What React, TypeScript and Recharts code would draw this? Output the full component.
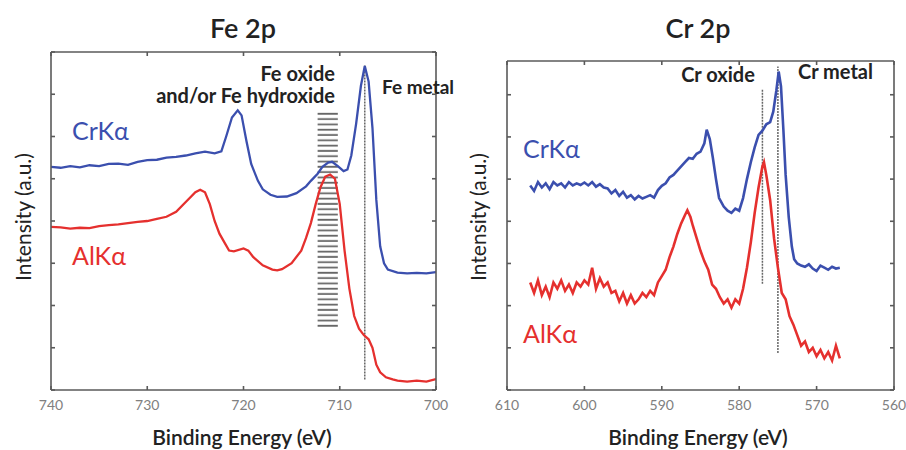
import React from 'react';
import { LineChart, Line, XAxis, YAxis, ReferenceLine, ReferenceArea } from 'recharts';

// Fe 2p panel
const feCrEnergy = [740, 739, 738, 737, 736, 735, 734, 733, 732, 731, 730, 729, 728, 727, 726, 725, 724, 723, 722.3, 721.8, 721.2, 720.6, 720.2, 719.7, 719.2, 718.5, 718, 717.2, 716.5, 715.5, 714.5, 713.5, 713, 712.3, 711.8, 711.2, 710.8, 710.2, 709.6, 709.2, 708.8, 708.3, 707.8, 707.4, 707, 706.6, 706.2, 705.8, 705.4, 705, 704, 703, 702, 701, 700];
const feCrKa = [5.28, 5.26, 5.3, 5.27, 5.32, 5.3, 5.35, 5.36, 5.33, 5.4, 5.44, 5.45, 5.5, 5.52, 5.55, 5.6, 5.64, 5.6, 5.65, 6.0, 6.45, 6.62, 6.5, 5.9, 5.35, 4.95, 4.75, 4.62, 4.57, 4.58, 4.66, 4.82, 4.95, 5.12, 5.28, 5.38, 5.4, 5.3, 5.18, 5.22, 5.55, 6.3, 7.2, 7.67, 7.3, 6.2, 4.5, 3.4, 3.0, 2.85, 2.78, 2.76, 2.77, 2.76, 2.79];
const feAlEnergy = [740, 739, 738, 737, 736, 735, 734, 733, 732, 731, 730, 729, 728, 727, 726, 725, 724.5, 724, 723.5, 723, 722.5, 722, 721.5, 721, 720, 719.5, 719, 718, 717, 716.5, 716, 715, 714, 713.5, 713, 712.5, 712, 711.5, 711, 710.5, 710, 709.5, 709, 708.5, 708, 707.5, 707, 706.6, 706.2, 705.8, 705.2, 704.5, 704, 703, 702, 701, 700];
const feAlKa = [3.86, 3.85, 3.82, 3.84, 3.83, 3.88, 3.9, 3.92, 3.95, 3.98, 4.0, 4.05, 4.1, 4.22, 4.45, 4.68, 4.74, 4.68, 4.4, 4.0, 3.7, 3.5, 3.3, 3.28, 3.35, 3.3, 3.15, 2.95, 2.85, 2.83, 2.86, 3.0, 3.3, 3.6, 3.95, 4.4, 4.8, 5.05, 5.1, 5.0, 4.4, 3.3, 2.4, 1.75, 1.45, 1.3, 1.2, 1.0, 0.6, 0.42, 0.3, 0.25, 0.22, 0.2, 0.22, 0.2, 0.26];
const feTicks = [740, 730, 720, 710, 700];

// Cr 2p panel
const crCrEnergy = [607, 606.5, 606, 605.5, 605, 604.5, 604, 603.5, 603, 602.5, 602, 601.5, 601, 600.5, 600, 599.5, 599, 598.5, 598, 597.5, 597, 596.5, 596, 595.5, 595, 594.5, 594, 593.5, 593, 592.5, 592, 591.5, 591, 590.5, 590, 589.5, 589, 588.5, 588, 587.5, 587, 586.5, 586, 585.5, 585, 584.5, 584.2, 583.8, 583.4, 583, 582.6, 582, 581.5, 581, 580.5, 580, 579.5, 579, 578.5, 578, 577.5, 577, 576.5, 576, 575.6, 575.2, 574.9, 574.6, 574.3, 574, 573.6, 573.2, 572.9, 572.5, 572, 571.5, 571, 570.5, 570, 569.5, 569, 568.5, 568, 567.5, 567];
const crCrKa = [4.85, 4.72, 4.93, 4.8, 4.9, 4.76, 4.93, 4.85, 4.9, 4.8, 4.93, 4.85, 4.9, 4.86, 4.92, 4.85, 4.93, 4.82, 4.88, 4.8, 4.78, 4.66, 4.74, 4.6, 4.7, 4.56, 4.62, 4.52, 4.6, 4.54, 4.58, 4.62, 4.56, 4.74, 4.84, 4.9, 5.04, 5.1, 5.2, 5.3, 5.4, 5.5, 5.48, 5.6, 5.65, 5.85, 6.17, 5.95, 5.5, 5.0, 4.55, 4.35, 4.25, 4.2, 4.3, 4.25, 4.55, 5.0, 5.4, 5.75, 6.05, 6.15, 6.3, 6.35, 6.6, 7.1, 7.55, 7.2, 6.2, 5.1, 4.1, 3.4, 3.1, 3.0, 2.95, 2.92, 2.98, 2.88, 2.82, 2.95, 2.9, 2.85, 2.92, 2.88, 2.9];
const crAlEnergy = [607, 606.5, 606, 605.5, 605, 604.5, 604, 603.5, 603, 602.5, 602, 601.5, 601, 600.5, 600, 599.5, 599, 598.5, 598, 597.5, 597, 596.5, 596, 595.5, 595, 594.5, 594, 593.5, 593, 592.5, 592, 591.5, 591, 590.5, 590, 589.5, 589, 588.5, 588, 587.5, 587, 586.7, 586.3, 586, 585.5, 585, 584.5, 584, 583.5, 583, 582.5, 582, 581.5, 581, 580.5, 580, 579.5, 579, 578.5, 578, 577.5, 577, 576.8, 576.5, 576, 575.5, 575, 574.5, 574, 573.5, 573, 572.5, 572, 571.5, 571, 570.5, 570, 569.5, 569, 568.5, 568, 567.5, 567];
const crAlKa = [2.55, 2.3, 2.6, 2.25, 2.45, 2.2, 2.55, 2.4, 2.6, 2.35, 2.5, 2.3, 2.55, 2.45, 2.6, 2.5, 2.9, 2.4, 2.65, 2.45, 2.55, 2.3, 2.35, 2.1, 2.3, 2.05, 2.25, 2.05, 2.15, 2.3, 2.2, 2.35, 2.25, 2.55, 2.7, 2.85, 3.15, 3.4, 3.7, 3.95, 4.15, 4.26, 4.1, 3.9, 3.6, 3.3, 3.05, 2.85, 2.5, 2.4, 2.2, 2.05, 2.15, 1.95, 2.15, 2.05, 2.4, 2.9, 3.5, 4.2, 4.8, 5.3, 5.4, 5.1, 4.5, 3.6, 2.9, 2.3, 2.15, 1.75, 1.55, 1.3, 1.05, 1.15, 0.9, 1.0, 0.8, 0.95, 0.75, 0.9, 0.7, 1.05, 0.75];
const crTicks = [610, 600, 590, 580, 570, 560];

const yTicks = [0, 1, 2, 3, 4, 5, 6, 7, 8];

const zip = (xs: number[], ys: number[]) => xs.map((e, i) => ({ e, v: ys[i] }));

const BLUE = '#3b4fae';
const RED = '#e5302e';
const AXIS = '#5a5a5a';
const FONT = 'Lato, "Open Sans", sans-serif';

const Txt = ({ x, y, children, size, color = '#222', weight = 400, align = 'center', rotate = false }: any) => {
  const tx = align === 'center' ? '-50%' : align === 'right' ? '-100%' : '0';
  return (
    <div
      style={{
        position: 'absolute',
        left: x,
        top: y,
        transform: `translate(${tx}, -50%)${rotate ? ' rotate(-90deg)' : ''}`,
        fontFamily: FONT,
        fontSize: size,
        fontWeight: weight,
        color,
        whiteSpace: 'nowrap',
        lineHeight: 1,
      }}
    >
      {children}
    </div>
  );
};

const noLabel = () => <g />;

// frame: labelled bottom axis plus four mirrored axes that draw the box and inward ticks
const frame = (domain: number[], ticks: number[], yMax: number) => {
  const yt = yTicks.filter((t) => t <= yMax);
  return [
    <XAxis key="xb" type="number" dataKey="e" domain={domain} ticks={ticks} reversed allowDataOverflow height={40}
      axisLine={false} tickLine={false} tickMargin={4} tick={{ fill: '#808080', fontSize: 14, fontFamily: FONT }} />,
    <XAxis key="xbt" xAxisId="bt" type="number" dataKey="e" domain={domain} ticks={ticks} reversed allowDataOverflow height={1}
      mirror tick={noLabel} tickSize={4} stroke={AXIS} strokeWidth={1.6} />,
    <XAxis key="xt" xAxisId="top" orientation="top" type="number" dataKey="e" domain={domain} ticks={ticks} reversed allowDataOverflow
      height={1} mirror tick={noLabel} tickSize={4} stroke={AXIS} strokeWidth={1.6} />,
    <YAxis key="yl" type="number" domain={[0, yMax]} ticks={yt} width={1} mirror tick={noLabel} tickSize={4}
      stroke={AXIS} strokeWidth={1.6} allowDataOverflow />,
    <YAxis key="yr" yAxisId="r" orientation="right" type="number" domain={[0, yMax]} ticks={yt} width={1} mirror tick={noLabel}
      tickSize={4} stroke={AXIS} strokeWidth={1.6} allowDataOverflow />,
  ];
};

export default function App() {
  return (
    <div style={{ position: 'absolute', left: 0, top: 0, width: 906, height: 450, background: '#fff', overflow: 'hidden' }}>
      <div style={{ position: 'absolute', left: 0, top: 0 }}>
        <LineChart width={460} height={450} margin={{ top: 52, right: 24, bottom: 20, left: 51 }}>
          <defs>
            <pattern id="hatchFe" width="8" height="5.3" patternUnits="userSpaceOnUse">
              <line x1="0" y1="2.5" x2="8" y2="2.5" stroke="#666" strokeWidth="1.8" />
            </pattern>
          </defs>
          {frame([700, 740], feTicks, 8)}
          <ReferenceArea x1={712.3} x2={710.2} y1={1.45} y2={6.6} fill="url(#hatchFe)" fillOpacity={1} stroke="none" />
          <ReferenceLine segment={[{ x: 707.4, y: 0.25 }, { x: 707.4, y: 7.7 }]} stroke="#666" strokeWidth={1.5} strokeDasharray="2 1" />
          <Line data={zip(feCrEnergy, feCrKa)} dataKey="v" type="linear" stroke={BLUE} strokeWidth={2.3} dot={false} isAnimationActive={false} />
          <Line data={zip(feAlEnergy, feAlKa)} dataKey="v" type="linear" stroke={RED} strokeWidth={2.3} dot={false} isAnimationActive={false} />
        </LineChart>
      </div>
      <div style={{ position: 'absolute', left: 460, top: 0 }}>
        <LineChart width={446} height={450} margin={{ top: 61, right: 12, bottom: 20, left: 47 }}>
          {frame([560, 610], crTicks, 7.8)}
          <ReferenceLine segment={[{ x: 577.0, y: 2.52 }, { x: 577.0, y: 7.12 }]} stroke="#666" strokeWidth={1.5} strokeDasharray="2 1" />
          <ReferenceLine segment={[{ x: 575.0, y: 0.88 }, { x: 575.0, y: 7.67 }]} stroke="#666" strokeWidth={1.5} strokeDasharray="2 1" />
          <Line data={zip(crCrEnergy, crCrKa)} dataKey="v" type="linear" stroke={BLUE} strokeWidth={2.6} dot={false} isAnimationActive={false} />
          <Line data={zip(crAlEnergy, crAlKa)} dataKey="v" type="linear" stroke={RED} strokeWidth={2.6} dot={false} isAnimationActive={false} />
        </LineChart>
      </div>

      <Txt x={243} y={27} size={27} weight={600}>Fe 2p</Txt>
      <Txt x={22} y={217} size={21} rotate>Intensity (a.u.)</Txt>
      <Txt x={242} y={436} size={21} weight={600}>Binding Energy (eV)</Txt>
      <Txt x={335} y={73} size={20} weight={700} align="right">Fe oxide</Txt>
      <Txt x={335} y={95} size={20} weight={700} align="right">and/or Fe hydroxide</Txt>
      <Txt x={382} y={86} size={19} weight={700} align="left">Fe metal</Txt>
      <Txt x={72} y={130} size={25} color={BLUE} align="left">CrKα</Txt>
      <Txt x={72} y={255} size={25} color={RED} align="left">AlKα</Txt>

      <Txt x={698} y={27} size={27} weight={600}>Cr 2p</Txt>
      <Txt x={477} y={217} size={21} rotate>Intensity (a.u.)</Txt>
      <Txt x={698} y={436} size={21} weight={600}>Binding Energy (eV)</Txt>
      <Txt x={718} y={74} size={20} weight={700}>Cr oxide</Txt>
      <Txt x={798} y={71} size={20} weight={700} align="left">Cr metal</Txt>
      <Txt x={523} y={148} size={25} color={BLUE} align="left">CrKα</Txt>
      <Txt x={523} y={333} size={25} color={RED} align="left">AlKα</Txt>
    </div>
  );
}
